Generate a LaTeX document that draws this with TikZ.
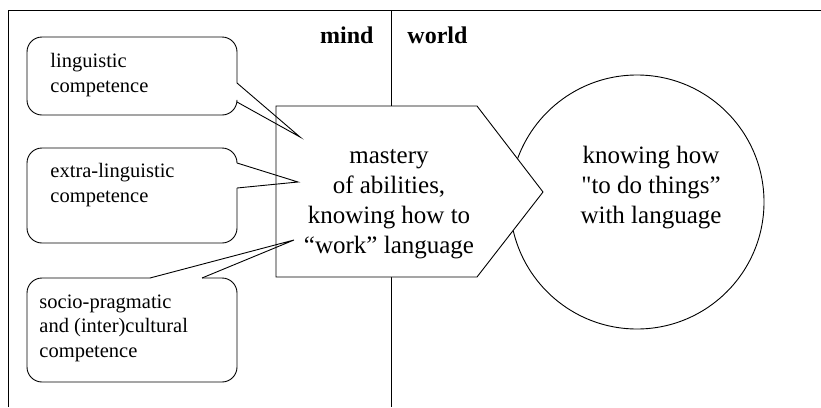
\documentclass[tikz,border=0pt]{standalone}
\usepackage{fontspec}
\setmainfont{Liberation Serif}
\newfontfamily\rawserif{Liberation Serif}
\begin{document}
\begin{tikzpicture}[x=1pt, y=-1pt, line width=0.9pt,
    bubble/.style={rounded corners=15},
    bubbletext/.style={anchor=north west, align=left, inner sep=0pt, font=\fontsize{20.5}{24.5}\selectfont},
    maintext/.style={align=center, inner sep=0pt, font=\fontsize{25}{30}\selectfont},
    headtext/.style={inner sep=0pt, font=\bfseries\fontsize{24}{28}\selectfont}]
    \useasboundingbox (0,0) rectangle (821,407);
    % frame and divider
    \draw (8,407) -- (8,10) -- (821,10);
    \draw (391,10) -- (391,407);
    \node [headtext, anchor=base east] (mind) at (374,43) {mind};
    \node [headtext, anchor=base west] (world) at (407,43) {world};
    % circle
    \node [circle, draw, fill=white, minimum size=254, inner sep=0pt] (goal) at (637,202) {};
    \node [maintext] (doing) at (651,188) {knowing how\\{\rawserif"}to do things”\\with language};
    % pentagon
    \draw [fill=white] (276,106) -- (477,106) -- (543,192) -- (477,277) -- (276,277) -- cycle;
    \node [maintext] (mastery) at (389,204) {mastery\\of abilities,\\knowing how to\\“work” language};
    % callout tips
    \coordinate (tipling) at (300,137);
    \coordinate (tipextra) at (298,182);
    \coordinate (tipsocio) at (294,240);
    % callouts
    \draw [bubble] (237,102) -- (237,115) -- (27,115) -- (27,37) -- (237,37) -- (237,83);
    \draw (237,83) -- (tipling) -- (237,102);
    \node [bubbletext] (ling) at (50,53) {linguistic\\competence};
    \draw [bubble] (237,188) -- (237,243) -- (27,243) -- (27,148) -- (237,148) -- (237,163);
    \draw (237,163) -- (tipextra) -- (237,188);
    \node [bubbletext] (extra) at (50,163) {extra-linguistic\\competence};
    \draw [bubble] (202,278) -- (237,278) -- (237,382) -- (27,382) -- (27,278) -- (150,278);
    \draw (150,278) -- (tipsocio) -- (202,278);
    \node [bubbletext] (socio) at (39,294) {socio-pragmatic\\and (inter)cultural\\competence};
\end{tikzpicture}
\end{document}
